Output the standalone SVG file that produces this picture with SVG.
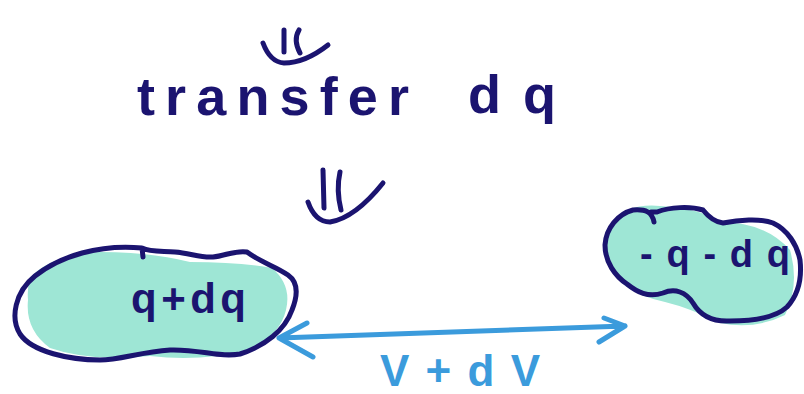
<svg xmlns="http://www.w3.org/2000/svg" width="804" height="394" viewBox="0 0 804 394">
<style>
.ink{fill:none;stroke:#1b1470;stroke-width:5;stroke-linecap:round;stroke-linejoin:round}
.blue{fill:none;stroke:#3b9bdc;stroke-width:5;stroke-linecap:round;stroke-linejoin:round}
.fill{fill:#9ee6d5;stroke:none}
.t{font-family:"Liberation Sans",Arial,sans-serif;fill:#1b1470;font-weight:bold}
.tb{font-family:"Liberation Sans",Arial,sans-serif;fill:#3b9bdc;font-weight:bold}
</style>
<rect width="804" height="394" fill="#ffffff"/>
<g id="top-arrow">
<path class="ink" d="M284 30 L284 52 M299 30 Q293 40 300 53 M263 43 Q270 62 284 63 Q305 63 328 45"/>
</g>
<g id="transfer">
<text class="t" x="137" y="115" font-size="54" textLength="272" lengthAdjust="spacing">transfer</text>
<text class="t" x="468" y="113" font-size="54" textLength="88" lengthAdjust="spacing">dq</text>
</g>
<g id="mid-arrow">
<path class="ink" d="M323 170 L324 208 M340 172 Q336 190 341 210 M308 202 Q315 222 330 222 Q355 218 383 183"/>
</g>
<g id="left-blob">
<path class="fill" d="M30 278 Q50 255 100 252 Q150 252 190 262 Q240 262 272 268 Q292 285 286 310 Q280 335 250 350 Q200 362 150 356 Q90 362 50 348 Q25 330 28 300 Q27 288 30 278 Z"/>
<path class="ink" d="M143 257 L142 248 C100 244 60 256 35 276 C15 292 10 318 20 334 C32 352 70 360 100 360 C120 360 140 352 170 350 C200 349 220 358 240 354 C265 346 285 330 292 310 C298 295 298 282 288 275 C275 266 260 262 247 252 C235 250 225 256 213 257 C200 258 190 253 175 252 C160 251 150 252 142 248"/>
<text class="t" x="131" y="313" font-size="42" textLength="115" lengthAdjust="spacing">q+dq</text>
</g>
<g id="right-blob">
<path class="fill" d="M612 222 Q628 203 660 206 Q700 208 720 222 Q765 222 790 250 Q800 285 785 315 Q755 330 720 323 Q690 308 665 302 Q618 292 607 262 Q603 238 612 222 Z"/>
<path class="ink" d="M654 222 C652 212 646 209 633 210 C618 214 606 228 605 245 C605 262 615 276 627 284 C637 292 648 298 663 293 C675 288 686 292 693 303 C700 315 712 322 730 321 C750 321 775 318 787 307 C798 295 802 278 800 260 C797 245 788 230 773 223 C760 218 738 220 723 223 C713 222 707 215 703 210 C690 206 670 207 657 212 L651 212"/>
<text class="t" x="640" y="267" font-size="38" textLength="150" lengthAdjust="spacing">-q-dq</text>
</g>
<g id="connectors">
<path class="blue" d="M279 338 Q450 332 625 326 M279 338 L307 323 M279 338 L313 357 M625 326 L604 318 M625 326 L599 342"/>
</g>
<text class="tb" x="380" y="386" font-size="44" textLength="160" lengthAdjust="spacing">V+dV</text>
</svg>
